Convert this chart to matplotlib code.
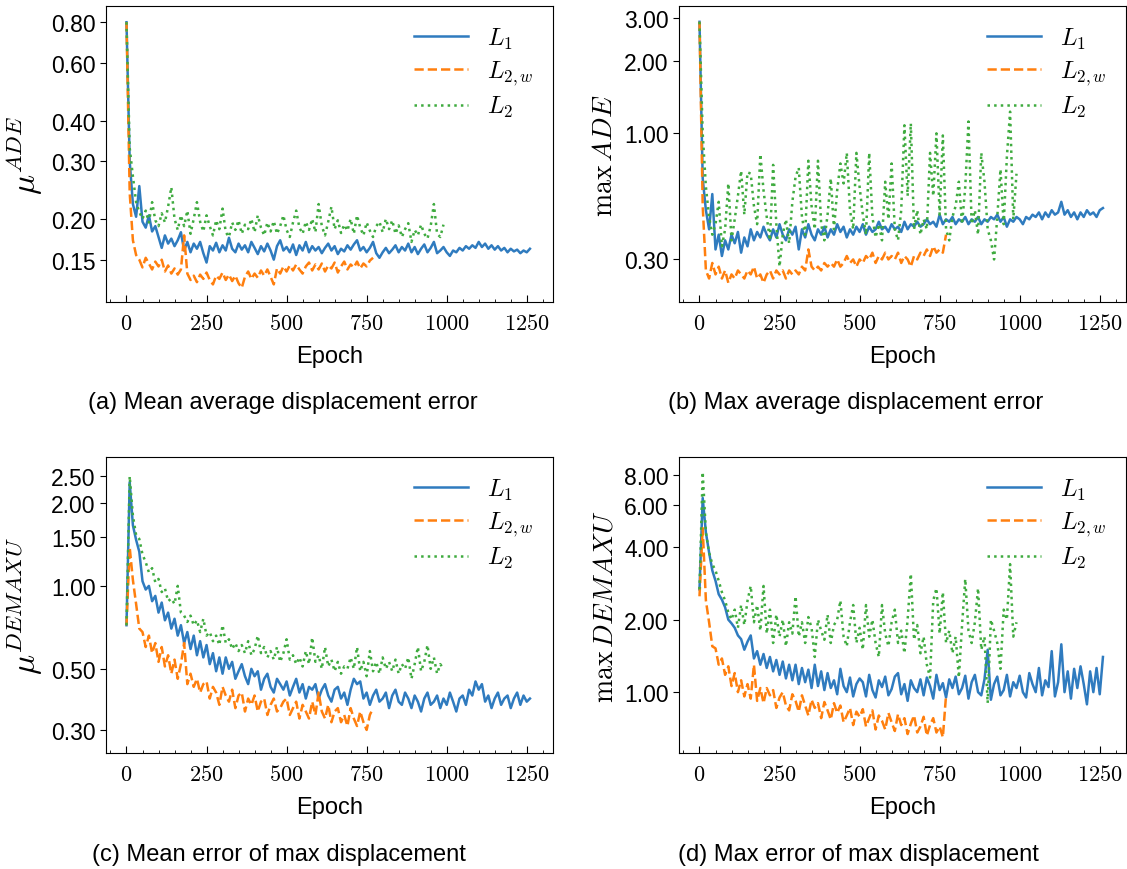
import numpy as np
import matplotlib
matplotlib.use("Agg")
import matplotlib.pyplot as plt
from matplotlib.ticker import (FixedLocator, FormatStrFormatter, FuncFormatter,
                               MultipleLocator, NullLocator)

plt.rcParams['font.family'] = ['Liberation Sans', 'DejaVu Sans']
plt.rcParams['mathtext.fontset'] = 'cm'

# values sampled every 10 epochs, read off the reference picture
# (a) mean ADE
a_l1 = [0.800, 0.300, 0.222, 0.203, 0.252, 0.196, 0.188, 0.205, 0.183, 0.190,
        0.176, 0.163, 0.178, 0.168, 0.174, 0.165, 0.172, 0.182, 0.160, 0.170,
        0.158, 0.168, 0.162, 0.170, 0.157, 0.147, 0.165, 0.160, 0.169, 0.158,
        0.166, 0.160, 0.175, 0.162, 0.158, 0.168, 0.161, 0.166, 0.158, 0.170,
        0.163, 0.156, 0.165, 0.159, 0.168, 0.160, 0.150, 0.165, 0.172, 0.160,
        0.164, 0.158, 0.167, 0.155, 0.166, 0.160, 0.170, 0.158, 0.165, 0.160,
        0.164, 0.157, 0.163, 0.168, 0.160, 0.165, 0.156, 0.162, 0.159, 0.166,
        0.161, 0.167, 0.172, 0.160, 0.164, 0.158, 0.163, 0.170, 0.157, 0.152,
        0.158, 0.163, 0.157, 0.161, 0.166, 0.158, 0.164, 0.160, 0.168, 0.158,
        0.164, 0.156, 0.162, 0.167, 0.158, 0.163, 0.170, 0.157, 0.160, 0.164,
        0.158, 0.154, 0.160, 0.158, 0.163, 0.160, 0.165, 0.162, 0.166, 0.163,
        0.170, 0.164, 0.168, 0.162, 0.166, 0.161, 0.165, 0.160, 0.163, 0.158,
        0.162, 0.159, 0.161, 0.157, 0.160, 0.158, 0.162]
a_l2w = [0.800, 0.240, 0.172, 0.155, 0.150, 0.142, 0.152, 0.146, 0.140, 0.148,
         0.143, 0.150, 0.138, 0.144, 0.136, 0.141, 0.135, 0.140, 0.178, 0.136,
         0.130, 0.134, 0.128, 0.135, 0.131, 0.137, 0.130, 0.126, 0.134, 0.131,
         0.137, 0.130, 0.135, 0.129, 0.134, 0.127, 0.123, 0.133, 0.138, 0.131,
         0.136, 0.132, 0.139, 0.134, 0.140, 0.133, 0.126, 0.141, 0.136, 0.143,
         0.138, 0.144, 0.139, 0.145, 0.140, 0.136, 0.143, 0.147, 0.139, 0.145,
         0.140, 0.146, 0.138, 0.144, 0.141, 0.147, 0.137, 0.143, 0.148, 0.140,
         0.145, 0.142, 0.148, 0.141, 0.146, 0.143, 0.149, 0.152]
a_l2 = [0.800, 0.330, 0.270, 0.225, 0.210, 0.200, 0.212, 0.195, 0.225, 0.198,
        0.190, 0.208, 0.195, 0.218, 0.250, 0.200, 0.185, 0.205, 0.190, 0.212,
        0.180, 0.200, 0.225, 0.196, 0.183, 0.205, 0.190, 0.178, 0.198, 0.186,
        0.215, 0.182, 0.176, 0.195, 0.185, 0.198, 0.180, 0.192, 0.186, 0.200,
        0.182, 0.205, 0.188, 0.178, 0.195, 0.183, 0.197, 0.180, 0.190, 0.205,
        0.185, 0.176, 0.195, 0.212, 0.188, 0.180, 0.196, 0.185, 0.200, 0.182,
        0.222, 0.190, 0.178, 0.196, 0.218, 0.186, 0.198, 0.181, 0.192, 0.184,
        0.200, 0.180, 0.205, 0.188, 0.178, 0.195, 0.184, 0.176, 0.190, 0.196,
        0.182, 0.200, 0.186, 0.198, 0.180, 0.191, 0.176, 0.186, 0.194, 0.170,
        0.185, 0.178, 0.192, 0.180, 0.174, 0.190, 0.222, 0.180, 0.176, 0.192]

# (b) max ADE
b_l1 = [2.90, 0.65, 0.48, 0.40, 0.56, 0.33, 0.38, 0.31, 0.36, 0.33,
        0.38, 0.35, 0.39, 0.32, 0.37, 0.34, 0.40, 0.36, 0.39, 0.37,
        0.41, 0.38, 0.36, 0.40, 0.37, 0.42, 0.38, 0.36, 0.40, 0.38,
        0.41, 0.33, 0.40, 0.37, 0.42, 0.38, 0.36, 0.40, 0.38, 0.41,
        0.37, 0.40, 0.38, 0.42, 0.39, 0.41, 0.37, 0.40, 0.38, 0.41,
        0.39, 0.42, 0.38, 0.41, 0.39, 0.40, 0.43, 0.40, 0.41, 0.39,
        0.42, 0.40, 0.41, 0.39, 0.43, 0.40, 0.42, 0.41, 0.43, 0.41,
        0.42, 0.44, 0.42, 0.43, 0.41, 0.46, 0.42, 0.44, 0.43, 0.45,
        0.42, 0.44, 0.43, 0.45, 0.42, 0.44, 0.43, 0.45, 0.42, 0.44,
        0.43, 0.45, 0.44, 0.46, 0.43, 0.45, 0.41, 0.44, 0.43, 0.45,
        0.44, 0.42, 0.45, 0.44, 0.46, 0.45, 0.47, 0.44, 0.47, 0.45,
        0.48, 0.46, 0.47, 0.52, 0.46, 0.48, 0.45, 0.47, 0.44, 0.47,
        0.45, 0.48, 0.46, 0.47, 0.45, 0.48, 0.49]
b_l2w = [2.90, 0.50, 0.27, 0.25, 0.29, 0.26, 0.28, 0.25, 0.27, 0.24,
         0.26, 0.25, 0.27, 0.26, 0.25, 0.27, 0.26, 0.28, 0.25, 0.26,
         0.24, 0.26, 0.27, 0.25, 0.27, 0.26, 0.27, 0.25, 0.27, 0.26,
         0.27, 0.26, 0.28, 0.27, 0.33, 0.28, 0.27, 0.28, 0.27, 0.29,
         0.28, 0.29, 0.28, 0.30, 0.28, 0.29, 0.31, 0.29, 0.30, 0.28,
         0.30, 0.29, 0.31, 0.30, 0.32, 0.29, 0.31, 0.30, 0.32, 0.30,
         0.31, 0.30, 0.32, 0.29, 0.31, 0.30, 0.28, 0.31, 0.30, 0.32,
         0.31, 0.33, 0.31, 0.34, 0.32, 0.33, 0.32, 0.38]
b_l2 = [2.90, 1.00, 0.60, 0.45, 0.38, 0.42, 0.52, 0.34, 0.40, 0.62,
        0.36, 0.44, 0.55, 0.70, 0.46, 0.69, 0.68, 0.50, 0.42, 0.82,
        0.58, 0.45, 0.36, 0.74, 0.42, 0.28, 0.38, 0.44, 0.35, 0.52,
        0.66, 0.72, 0.45, 0.38, 0.77, 0.50, 0.40, 0.77, 0.42, 0.36,
        0.46, 0.65, 0.40, 0.58, 0.75, 0.62, 0.83, 0.48, 0.40, 0.83,
        0.60, 0.46, 0.38, 0.83, 0.45, 0.37, 0.42, 0.36, 0.63, 0.44,
        0.75, 0.40, 0.36, 0.48, 1.08, 0.55, 1.10, 0.40, 0.48, 0.38,
        0.44, 0.40, 0.83, 0.55, 1.00, 0.46, 0.98, 0.40, 0.36, 0.45,
        0.50, 0.63, 0.42, 0.60, 1.12, 0.42, 0.48, 0.38, 0.83, 0.63,
        0.40, 0.36, 0.30, 0.45, 0.71, 0.42, 0.80, 1.23, 0.44, 0.68]

# (c) mean DEMAXU
c_l1 = [0.72, 2.38, 1.66, 1.47, 1.33, 1.04, 0.97, 1.00, 0.88, 0.92,
        0.80, 0.87, 0.75, 0.80, 0.70, 0.76, 0.66, 0.72, 0.62, 0.68,
        0.59, 0.66, 0.56, 0.63, 0.55, 0.61, 0.52, 0.57, 0.49, 0.55,
        0.48, 0.55, 0.50, 0.53, 0.46, 0.49, 0.52, 0.47, 0.44, 0.50,
        0.47, 0.49, 0.42, 0.46, 0.48, 0.43, 0.41, 0.46, 0.44, 0.42,
        0.45, 0.40, 0.43, 0.46, 0.41, 0.44, 0.39, 0.43, 0.42, 0.44,
        0.39, 0.42, 0.44, 0.40, 0.38, 0.42, 0.43, 0.39, 0.41, 0.37,
        0.42, 0.46, 0.44, 0.45, 0.39, 0.41, 0.37, 0.40, 0.42, 0.38,
        0.39, 0.41, 0.36, 0.40, 0.42, 0.38, 0.37, 0.41, 0.39, 0.36,
        0.40, 0.38, 0.35, 0.39, 0.41, 0.37, 0.38, 0.40, 0.36, 0.39,
        0.37, 0.41, 0.38, 0.35, 0.39, 0.40, 0.37, 0.42, 0.40, 0.45,
        0.42, 0.44, 0.38, 0.40, 0.36, 0.39, 0.41, 0.37, 0.39, 0.40,
        0.36, 0.39, 0.41, 0.37, 0.40, 0.38, 0.39]
c_l2w = [0.72, 1.38, 1.05, 0.86, 0.70, 0.68, 0.60, 0.66, 0.57, 0.62,
         0.53, 0.60, 0.51, 0.56, 0.48, 0.54, 0.46, 0.52, 0.62, 0.44,
         0.48, 0.43, 0.46, 0.41, 0.44, 0.45, 0.39, 0.43, 0.41, 0.37,
         0.43, 0.40, 0.38, 0.42, 0.36, 0.40, 0.41, 0.35, 0.39, 0.37,
         0.40, 0.35, 0.38, 0.39, 0.34, 0.37, 0.39, 0.35, 0.36, 0.38,
         0.39, 0.34, 0.36, 0.38, 0.33, 0.37, 0.35, 0.33, 0.38, 0.34,
         0.41, 0.35, 0.33, 0.37, 0.32, 0.35, 0.36, 0.32, 0.34, 0.31,
         0.36, 0.33, 0.31, 0.35, 0.32, 0.30, 0.34, 0.36]
c_l2 = [0.72, 2.50, 1.80, 1.53, 1.48, 1.30, 1.22, 1.12, 1.16, 1.03,
        1.06, 0.95, 0.98, 0.88, 0.90, 0.86, 1.00, 0.80, 0.78, 0.74,
        0.78, 0.72, 0.75, 0.68, 0.76, 0.66, 0.68, 0.63, 0.66, 0.61,
        0.72, 0.62, 0.64, 0.59, 0.62, 0.58, 0.61, 0.57, 0.63, 0.56,
        0.59, 0.66, 0.57, 0.60, 0.55, 0.58, 0.54, 0.60, 0.53, 0.57,
        0.64, 0.54, 0.56, 0.52, 0.55, 0.51, 0.58, 0.52, 0.65, 0.53,
        0.56, 0.50, 0.60, 0.51, 0.54, 0.49, 0.53, 0.48, 0.51, 0.50,
        0.55, 0.50, 0.60, 0.49, 0.53, 0.47, 0.58, 0.49, 0.53, 0.48,
        0.55, 0.50, 0.53, 0.49, 0.54, 0.48, 0.52, 0.50, 0.55, 0.46,
        0.52, 0.60, 0.49, 0.53, 0.61, 0.50, 0.55, 0.48, 0.52, 0.50]

# (d) max DEMAXU
d_l1 = [2.67, 6.40, 4.60, 3.80, 3.20, 2.90, 2.55, 2.42, 2.25, 2.00,
        1.93, 1.85, 1.72, 1.66, 1.50, 1.62, 1.72, 1.38, 1.48, 1.30,
        1.44, 1.26, 1.40, 1.22, 1.36, 1.18, 1.34, 1.14, 1.30, 1.12,
        1.30, 1.08, 1.26, 1.10, 1.24, 1.04, 1.30, 1.06, 1.22, 1.02,
        1.20, 1.04, 1.12, 0.98, 1.25, 1.06, 1.00, 1.15, 0.96, 1.08,
        1.14, 1.10, 0.96, 1.18, 1.02, 0.95, 1.12, 1.05, 1.16, 0.97,
        1.03, 1.16, 1.20, 0.98, 1.08, 0.92, 1.12, 1.04, 1.00, 1.13,
        0.97, 1.15, 1.06, 0.94, 1.18, 1.02, 1.09, 0.95, 1.13, 1.04,
        1.16, 0.98, 1.04, 1.17, 0.94, 1.10, 1.18, 1.00, 0.97, 1.13,
        1.50, 0.93, 1.08, 1.16, 0.97, 1.02, 1.18, 0.96, 1.10, 1.04,
        1.17, 1.00, 0.95, 1.20, 1.08, 1.00, 1.26, 0.97, 1.12, 1.05,
        1.48, 0.96, 1.10, 1.58, 1.00, 1.22, 0.94, 1.25, 1.04, 1.28,
        1.08, 0.89, 1.22, 1.00, 1.26, 0.98, 1.40]
d_l2w = [2.50, 4.80, 2.40, 1.95, 1.55, 1.52, 1.30, 1.38, 1.18, 1.28,
         1.06, 1.20, 1.00, 1.12, 0.96, 1.08, 0.94, 1.30, 0.92, 1.04,
         0.90, 1.04, 0.97, 1.02, 0.86, 0.95, 1.00, 0.88, 0.84, 0.98,
         0.92, 0.83, 0.97, 0.88, 0.80, 0.93, 0.86, 0.90, 0.78, 0.91,
         0.84, 0.77, 0.90, 0.82, 0.88, 0.75, 0.80, 0.86, 0.73, 0.83,
         0.79, 0.85, 0.72, 0.78, 0.84, 0.70, 0.80, 0.76, 0.70, 0.82,
         0.75, 0.69, 0.81, 0.73, 0.78, 0.67, 0.74, 0.80, 0.68, 0.72,
         0.79, 0.66, 0.73, 0.78, 0.68, 0.72, 0.65, 0.97]
d_l2 = [2.67, 8.20, 4.60, 3.80, 3.40, 3.20, 2.90, 2.60, 2.40, 2.14,
        2.00, 2.20, 1.85, 2.30, 1.90, 2.40, 2.76, 1.95, 2.30, 1.80,
        2.76, 1.75, 2.20, 1.60, 2.10, 1.70, 2.00, 1.55, 1.95, 1.75,
        2.50, 1.70, 1.95, 1.60, 2.05, 1.85, 1.40, 2.00, 1.80, 1.65,
        2.10, 1.60, 1.90, 2.00, 2.40, 1.70, 1.55, 1.95, 2.30, 1.60,
        1.85, 1.50, 2.30, 1.70, 2.00, 1.60, 1.40, 2.30, 1.75, 1.55,
        1.95, 2.20, 1.60, 1.80, 1.45, 2.00, 3.10, 1.65, 1.90, 1.45,
        1.70, 1.30, 1.15, 2.40, 2.70, 1.75, 2.60, 1.60, 1.80, 1.45,
        1.70, 1.15, 1.90, 2.95, 1.80, 1.60, 1.95, 2.70, 1.50, 1.70,
        0.90, 2.00, 1.80, 1.60, 1.25, 2.20, 2.00, 3.40, 1.70, 1.95]

panels = [
    (a_l1, a_l2w, a_l2, r'$\mu^{ADE}$', 24, [0.15, 0.2, 0.3, 0.4, 0.6, 0.8], (0.1113, 0.895),
     '(a) Mean average displacement error'),
    (b_l1, b_l2w, b_l2, r'$\max\,ADE$', 20, [0.3, 1.0, 2.0, 3.0], (0.1998, 3.364),
     '(b) Max average displacement error'),
    (c_l1, c_l2w, c_l2, r'$\mu^{DEMAXU}$', 24, [0.3, 0.5, 1.0, 1.5, 2.0, 2.5], (0.2474, 2.93),
     '(c) Mean error of max displacement'),
    (d_l1, d_l2w, d_l2, r'$\max\,DEMAXU$', 20, [1.0, 2.0, 4.0, 6.0, 8.0], (0.559, 9.44),
     '(d) Max error of max displacement'),
]

W, H = 1127, 870
fig = plt.figure(figsize=(W / 100, H / 100), dpi=100)

rects = [(106, 7.3), (679, 7.3), (106, 458.3), (679, 458.3)]
captions_xy = [(283, 403), (856, 403), (279, 855), (858, 855)]

for (l1, l2w, l2, ylab, yls, yt, ylim, cap), (px, py), (cx, cy) in zip(panels, rects, captions_xy):
    ax = fig.add_axes([px / W, 1 - (py + 295.7) / H, 447 / W, 295.7 / H])
    ax.plot(np.arange(len(l1)) * 10, l1, color='#2f7bbf', lw=1.8, label=r'$L_1$')
    ax.plot(np.arange(len(l2w)) * 10, l2w, color='#ff7f0e', lw=1.8, ls='--', label=r'$L_{2,w}$')
    ax.plot(np.arange(len(l2)) * 10, l2, color='#3fab3f', lw=1.8, ls=':', label=r'$L_2$')

    ax.set_yscale('log')
    ax.set_ylim(*ylim)
    ax.set_xlim(-64, 1332)
    ax.yaxis.set_major_locator(FixedLocator(yt))
    ax.yaxis.set_major_formatter(FormatStrFormatter('%.2f'))
    ax.yaxis.set_minor_locator(NullLocator())
    ax.xaxis.set_major_locator(MultipleLocator(250))
    ax.xaxis.set_minor_locator(MultipleLocator(50))
    ax.xaxis.set_major_formatter(FuncFormatter(lambda v, p: r'$\mathrm{%d}$' % v))
    ax.tick_params(axis='x', which='both', direction='in', labelsize=16, pad=8)
    ax.tick_params(axis='x', which='major', length=5)
    ax.tick_params(axis='x', which='minor', length=2.5)
    ax.tick_params(axis='y', direction='out', length=4, labelsize=16.5)
    for s in ax.spines.values():
        s.set_linewidth(0.8)

    ax.set_xlabel('Epoch', fontsize=17, labelpad=8)
    ax.set_ylabel(ylab, fontsize=yls)
    ax.legend(loc='upper right', frameon=False, fontsize=17.5, handlelength=2.2,
              labelspacing=0.3, borderaxespad=0.4)
    fig.text(cx / W, 1 - cy / H, cap, ha='center', va='center', fontsize=17)

fig.savefig('out.png', dpi=100)
